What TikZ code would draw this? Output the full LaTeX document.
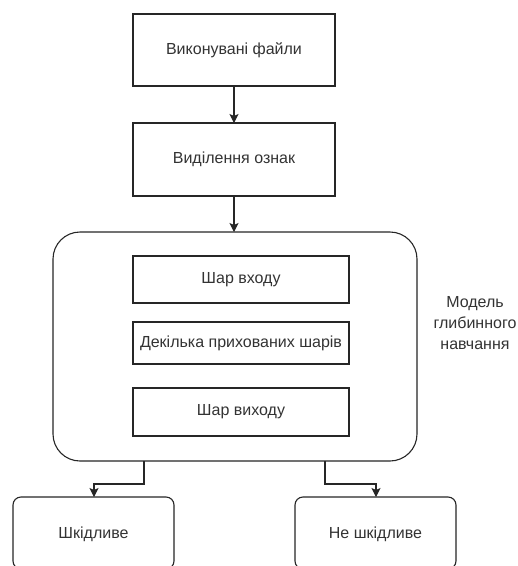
\documentclass[tikz,border=0pt]{standalone}
\usepackage{fontspec}
\setmainfont{Liberation Sans}
\usetikzlibrary{arrows.meta}
\begin{document}
\begin{tikzpicture}[x=1pt,y=-1pt,
  txt/.style={text=black!80, font=\fontsize{16}{21}\selectfont},
  stepbox/.style={draw=black!85, line width=1.1pt, fill=white},
  arr/.style={draw=black!85, line width=1.1pt, -{Stealth[length=9pt,width=9pt,inset=2pt]}}
]
\useasboundingbox (0,0) rectangle (518,566);
\begin{scope}
\clip (0,0) rectangle (518,566);
% top flow
\draw[stepbox] (133,14) rectangle (335,86);
\node[txt] (files) at (234,50) {Виконувані файли};
\coordinate (filesB) at (234,86);
\draw[stepbox] (133,123) rectangle (335,196);
\node[txt] (feat) at (234,159.5) {Виділення ознак};
\coordinate (featT) at (234,123);
\coordinate (featB) at (234,196);
% model container
\draw[stepbox, rounded corners=27pt] (53,232) rectangle (417,461);
\coordinate (modelT) at (234,232);
\coordinate (modelBL) at (144,461);
\coordinate (modelBR) at (325,461);
% layers
\draw[stepbox] (133,256) rectangle (349,303);
\node[txt] (in) at (241,279.5) {Шар входу};
\draw[stepbox] (133,322) rectangle (349,364);
\node[txt] (hid) at (241,343) {Декілька прихованих шарів};
\draw[stepbox] (133,388) rectangle (349,436);
\node[txt] (out) at (241,412) {Шар виходу};
\node[txt, align=center] (lbl) at (475,323) {Модель\\глибинного\\навчання};
% outputs
\draw[stepbox, rounded corners=8pt] (13,497) rectangle (174,569);
\node[txt] (bad) at (93.5,534) {Шкідливе};
\coordinate (badT) at (94,497);
\draw[stepbox, rounded corners=8pt] (295,497) rectangle (456,569);
\node[txt] (good) at (375.5,534) {Не шкідливе};
\coordinate (goodT) at (376,497);
% connectors
\draw[arr] (filesB) -- (featT);
\draw[arr] (featB) -- (modelT);
\draw[arr] (modelBL) |- (120,484) -| (badT);
\draw[arr] (modelBR) |- (350,484) -| (goodT);
\end{scope}
\end{tikzpicture}
\end{document}
